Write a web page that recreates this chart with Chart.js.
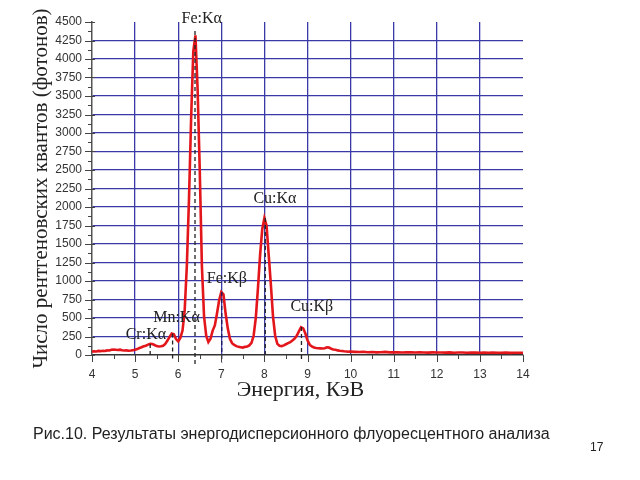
<!DOCTYPE html>
<html>
<head>
<meta charset="utf-8">
<script src="https://cdn.jsdelivr.net/npm/chart.js@4"></script>
<style>
  html, body { margin: 0; padding: 0; background: #fff; }
  #wrap { position: relative; width: 640px; height: 480px; overflow: hidden; }
  #caption { position: absolute; left: 33px; top: 425px; font-family: "Liberation Sans", Arial, sans-serif; font-size: 16px; color: #222; white-space: nowrap; }
  #page { position: absolute; left: 590px; top: 440px; font-family: "Liberation Sans", Arial, sans-serif; font-size: 12px; color: #222; }
</style>
</head>
<body>
<div id="wrap">
  <canvas id="c" width="640" height="480"></canvas>
  <div id="caption">Рис.10. Результаты энергодисперсионного флуоресцентного анализа</div>
  <div id="page">17</div>
</div>
<script>
// Energies (keV), dense part 4.00–10.00 step 0.05, then 10.1–14.0 step 0.1
const energyDense = [
  4.00,4.05,4.10,4.15,4.20,4.25,4.30,4.35,4.40,4.45,
  4.50,4.55,4.60,4.65,4.70,4.75,4.80,4.85,4.90,4.95,
  5.00,5.05,5.10,5.15,5.20,5.25,5.30,5.35,5.40,5.45,
  5.50,5.55,5.60,5.65,5.70,5.75,5.80,5.85,5.90,5.95,
  6.00,6.05,6.10,6.15,6.20,6.25,6.30,6.35,6.40,6.45,
  6.50,6.55,6.60,6.65,6.70,6.75,6.80,6.85,6.90,6.95,
  7.00,7.05,7.10,7.15,7.20,7.25,7.30,7.35,7.40,7.45,
  7.50,7.55,7.60,7.65,7.70,7.75,7.80,7.85,7.90,7.95,
  8.00,8.05,8.10,8.15,8.20,8.25,8.30,8.35,8.40,8.45,
  8.50,8.55,8.60,8.65,8.70,8.75,8.80,8.85,8.90,8.95,
  9.00,9.05,9.10,9.15,9.20,9.25,9.30,9.35,9.40,9.45,
  9.50,9.55,9.60,9.65,9.70,9.75,9.80,9.85,9.90,9.95,
  10.00
];
const countsDense = [
  45,50,48,55,52,58,55,62,60,70,
  75,72,68,72,65,60,62,58,60,65,
  70,80,95,105,118,125,140,150,148,135,
  120,115,118,125,150,195,245,290,280,215,
  185,230,330,600,1200,2100,3200,4100,4320,3600,
  2500,1200,520,260,175,220,330,400,560,740,
  850,820,560,360,220,160,135,120,110,105,
  100,110,115,130,165,260,500,900,1350,1700,
  1850,1750,1350,950,520,260,150,125,120,130,
  145,160,175,195,220,260,320,375,360,290,
  200,140,115,100,95,92,90,88,92,105,
  100,85,75,70,62,58,55,50,48,45,
  45
];
const energyTail = [
  10.1,10.2,10.3,10.4,10.5,10.6,10.7,10.8,10.9,11.0,
  11.1,11.2,11.3,11.4,11.5,11.6,11.7,11.8,11.9,12.0,
  12.1,12.2,12.3,12.4,12.5,12.6,12.7,12.8,12.9,13.0,
  13.1,13.2,13.3,13.4,13.5,13.6,13.7,13.8,13.9,14.0
];
const countsTail = [
  42,40,44,38,40,36,38,42,35,37,
  36,34,38,35,33,36,34,32,35,33,
  34,32,35,31,33,34,30,32,33,31,
  32,30,33,31,30,32,29,31,30,30
];

// Characteristic lines (dashed markers)
const lineEnergy = [5.35, 5.87, 6.39, 7.01, 8.02, 8.86];
const lineTop    = [150, 290, 4380, 850, 1850, 380];
const lineBottom = [-20, -60, -160, -100, 0, -60];

// Peak labels
const labelText   = ["Cr:Kα", "Mn:Kα", "Fe:Kα", "Fe:Kβ", "Cu:Kα", "Cu:Kβ"];
const labelEnergy = [5.25, 5.96, 6.545, 7.13, 8.245, 9.10];
const labelCount  = [270, 500, 4540, 1027, 2108, 653];

// Axis ticks
const xMin = 4, xMax = 14, xStep = 1;
const yMin = 0, yMax = 4500, yStep = 250;

const spectrum = energyDense.map((e, i) => ({ x: e, y: countsDense[i] }))
  .concat(energyTail.map((e, i) => ({ x: e, y: countsTail[i] })));

const markerSets = lineEnergy.map((e, i) => ({
  type: 'line',
  data: [{ x: e, y: lineTop[i] }, { x: e, y: lineBottom[i] }],
  borderColor: i === 3 ? '#1a1a60' : '#222',
  borderWidth: 1.3,
  borderDash: [4, 3],
  pointRadius: 0,
  clip: false,
  order: 1
}));

const GRID = '#3a3aa6';

const decor = {
  id: 'decor',
  afterDraw(chart) {
    const ctx = chart.ctx;
    const xs = chart.scales.x, ys = chart.scales.y;
    const ca = chart.chartArea;
    ctx.save();
    // y-axis ticks
    ctx.strokeStyle = '#444';
    ctx.lineWidth = 1;
    for (let v = yMin; v <= yMax + 1e-9; v += yStep / 2) {
      const py = Math.round(ys.getPixelForValue(v)) + 0.5;
      const major = Math.abs(v / yStep - Math.round(v / yStep)) < 1e-6;
      ctx.beginPath();
      ctx.moveTo(ca.left - (major ? 7 : 4), py);
      ctx.lineTo(ca.left + (major ? 3 : 0), py);
      ctx.stroke();
    }
    // x-axis ticks
    for (let v = xMin; v <= xMax + 1e-9; v += xStep / 2) {
      const px = Math.round(xs.getPixelForValue(v)) + 0.5;
      const major = Math.abs(v - Math.round(v)) < 1e-6;
      ctx.beginPath();
      ctx.moveTo(px, ca.bottom);
      ctx.lineTo(px, ca.bottom + (major ? 7 : 4));
      ctx.stroke();
    }
    // peak labels
    ctx.fillStyle = '#222';
    ctx.font = '16px "Liberation Serif", "DejaVu Serif", serif';
    ctx.textAlign = 'center';
    ctx.textBaseline = 'middle';
    labelText.forEach((t, i) => {
      ctx.fillText(t, xs.getPixelForValue(labelEnergy[i]), ys.getPixelForValue(labelCount[i]));
    });
    // x-axis title
    ctx.font = '22px "Liberation Serif", "DejaVu Serif", serif';
    ctx.fillStyle = '#222';
    ctx.fillText('Энергия, КэВ', (ca.left + ca.right) / 2 - 7, 390);
    ctx.restore();
  }
};

new Chart(document.getElementById('c'), {
  type: 'line',
  data: {
    datasets: [
      {
        data: spectrum,
        borderColor: '#e3161c',
        borderWidth: 2.6,
        pointRadius: 0,
        tension: 0,
        order: 2
      },
      ...markerSets
    ]
  },
  options: {
    responsive: false,
    devicePixelRatio: 1,
    animation: false,
    layout: { padding: { left: 0, top: 22, right: 117, bottom: 0 } },
    plugins: { legend: { display: false }, tooltip: { enabled: false } },
    scales: {
      x: {
        type: 'linear',
        min: xMin, max: xMax,
        afterFit: (s) => { s.height = 125; },
        ticks: {
          stepSize: xStep,
          color: '#333',
          padding: 12,
          font: { family: '"Liberation Sans", Arial, sans-serif', size: 12 },
          maxRotation: 0,
          callback: (v) => String(v)
        },
        grid: {
          drawTicks: false,
          color: (c) => (c.tick && (c.tick.value === xMin || c.tick.value === xMax)) ? 'rgba(0,0,0,0)' : GRID,
          lineWidth: 1.3
        },
        border: { color: '#333', width: 1.5 }
      },
      y: {
        min: yMin, max: yMax,
        afterFit: (s) => { s.width = 92; },
        ticks: {
          stepSize: yStep,
          color: '#333',
          padding: 10,
          font: { family: '"Liberation Sans", Arial, sans-serif', size: 12 },
          callback: (v) => String(v)
        },
        grid: {
          drawTicks: false,
          color: (c) => (c.tick && (c.tick.value === yMin || c.tick.value === yMax)) ? 'rgba(0,0,0,0)' : GRID,
          lineWidth: 1.3
        },
        border: { color: '#555', width: 1.5 },
        title: {
          display: true,
          text: 'Число рентгеновских квантов (фотонов)',
          color: '#222',
          font: { family: '"Liberation Serif", "DejaVu Serif", serif', size: 21 },
          padding: { top: 29, bottom: 0 }
        }
      }
    }
  },
  plugins: [decor]
});
</script>
</body>
</html>
